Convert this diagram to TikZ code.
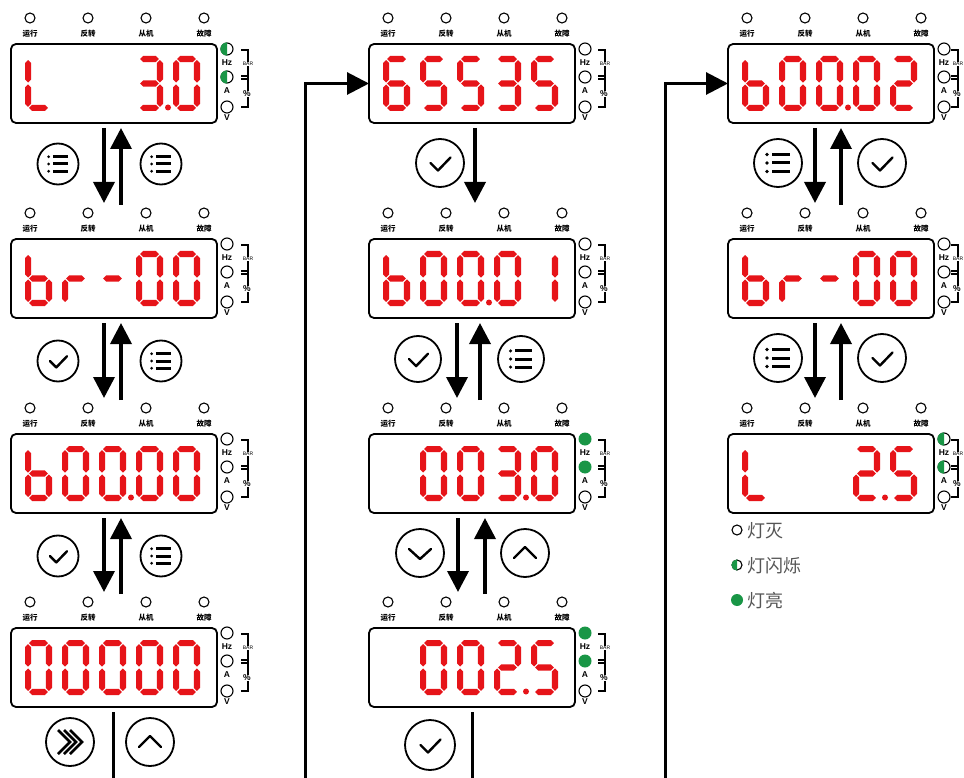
\documentclass[tikz,border=0pt]{standalone}
\usepackage{fontspec}
\newfontfamily\cjk{Noto Sans CJK SC}
\newfontfamily\lsans{Liberation Sans}
\usetikzlibrary{arrows.meta,calc}
\definecolor{segred}{RGB}{230,20,25}
\definecolor{ledg}{RGB}{25,150,70}
\definecolor{legcol}{RGB}{85,85,85}

\def\hh{3.1}
\newcommand\hseg[3]{\fill[segred] (#1,#3) -- (#1+\hh,#3-\hh) -- (#2-\hh,#3-\hh) -- (#2,#3) -- (#2-\hh,#3+\hh) -- (#1+\hh,#3+\hh) -- cycle;}
\newcommand\vseg[3]{\fill[segred] (#1,#2) -- (#1+\hh,#2+\hh) -- (#1+\hh,#3-\hh) -- (#1,#3) -- (#1-\hh,#3-\hh) -- (#1-\hh,#2+\hh) -- cycle;}
\def\zsga{\hseg{4.1}{22.9}{3.1}}
\def\zsgb{\vseg{23.9}{4.1}{26.6}}
\def\zsgc{\vseg{23.9}{28.4}{50.9}}
\def\zsgd{\hseg{4.1}{22.9}{51.9}}
\def\zsge{\vseg{3.1}{28.4}{50.9}}
\def\zsgf{\vseg{3.1}{4.1}{26.6}}
\def\zsgg{\hseg{4.1}{22.9}{27.5}}
\def\zsgp{\fill[segred] (32,51.5) circle (3);}
\def\zsgn{}
\newcommand\dg[3]{\begin{scope}[shift={(#1,#2)}]\foreach \s in {#3}{\csname zsg\s\endcsname}\end{scope}}
\newcommand\disp[7]{\dg{#1+14}{#2+12}{#3}\dg{#1+51}{#2+12}{#4}\dg{#1+88}{#2+12}{#5}\dg{#1+125}{#2+12}{#6}\dg{#1+162}{#2+12}{#7}}

\newcommand\ledoff[2]{\draw[ledline] (#1,#2) circle (6);}
\newcommand\ledon[2]{\fill[ledg] (#1,#2) circle (6.5);}
\newcommand\ledhalf[2]{\draw[ledline] (#1,#2) circle (6); \fill[ledg] (#1,#2+6.6) arc[start angle=90,end angle=270,radius=6.6] -- cycle;}

% #1 name, #2 X, #3 Y, #4 Hz led, #5 A led, #6 bracket x offset
\newcommand\panel[6]{%
 \node[pbox] (#1) at (#2+103,#3+39.5) {};
 \foreach \dx/\tx in {19/运行,77/反转,135/从机,193/故障}{%
   \draw[ledline] (#2+\dx,#3-26) circle (5);
   \node[toplab] at (#2+\dx,#3-10) {\tx};}
 #4{#2+216}{#3+5}
 #5{#2+216}{#3+33}
 \ledoff{#2+216}{#3+63}
 \node[sidelab] at (#2+216,#3+18.5) {Hz};
 \node[sidelab] at (#2+216,#3+46.5) {A};
 \node[sidelab] at (#2+216,#3+74) {V};
 \draw[brk] (#2+#6-7,#3+6) -- (#2+#6,#3+6) -- (#2+#6,#3+63) -- (#2+#6-7,#3+63);
 \draw[brk] (#2+#6-7,#3+32) -- (#2+#6,#3+32) (#2+#6-7,#3+35) -- (#2+#6,#3+35);
 \node[barlab] at (#2+#6,#3+20) {BAR};
 \node[pctlab] at (#2+#6-1,#3+50) {\%};
}

\newcommand\icomenu[2]{\begin{scope}[shift={(#1)},scale=#2]
 \foreach \yy in {-8.5,0,8.5}{\fill (-11,\yy) circle (1.8); \draw[line width=3pt] (-6,\yy) -- (12,\yy);}
 \end{scope}}
\newcommand\icocheck[2]{\begin{scope}[shift={(#1)},scale=#2]
 \draw[ico] (-9.5,0) -- (-2,7.5) -- (10.5,-5.5);\end{scope}}
\newcommand\icodown[2]{\begin{scope}[shift={(#1)},scale=#2]
 \draw[ico] (-11,-4) -- (0,6) -- (11,-4);\end{scope}}
\newcommand\icoup[2]{\begin{scope}[shift={(#1)},scale=#2]
 \draw[ico] (-11,5) -- (0,-6) -- (11,5);\end{scope}}
\newcommand\icotriple[2]{\begin{scope}[shift={(#1)},scale=#2]
 \foreach \xx in {-12,-6,0}{\draw[line width=2.6pt] (\xx,-12) -- (\xx+12,0) -- (\xx,12);}\end{scope}}

\tikzset{
 pbox/.style={draw, line width=1.8pt, rounded corners=5pt, minimum width=206pt, minimum height=79pt, inner sep=0pt, outer sep=0pt},
 ledline/.style={draw, line width=1.1pt, fill=white},
 toplab/.style={font=\cjk\bfseries\fontsize{7.5}{7.5}\selectfont, inner sep=0pt},
 sidelab/.style={font=\lsans\bfseries\fontsize{8.5}{8.5}\selectfont, inner sep=0pt},
 barlab/.style={font=\lsans\fontsize{5}{5}\selectfont, inner sep=0.5pt, fill=white},
 pctlab/.style={font=\lsans\bfseries\fontsize{8.5}{8.5}\selectfont, inner sep=0.5pt, fill=white},
 brk/.style={line width=1.1pt},
 btn/.style={draw, circle, line width=1.8pt, inner sep=0pt, minimum size=#1},
 btn/.default=48pt,
 arr/.style={line width=3.6pt, -{Triangle[length=21pt,width=21pt]}},
 conn/.style={line width=3pt},
 carr/.style={line width=3pt, -{Triangle[length=22pt,width=22pt]}},
 ico/.style={line width=2.4pt, line cap=round, line join=round},
 legtext/.style={font=\cjk\fontsize{18}{18}\selectfont, text=legcol, inner sep=0pt, anchor=west},
}

\begin{document}
\begin{tikzpicture}[x=1pt,y=-1pt]
\useasboundingbox (0,0) rectangle (964,778);
\fill[white] (0,0) rectangle (964,778);
\coordinate (bot) at (0,781);

% ---------- left column ----------
\panel{p1}{11}{44}{\ledhalf}{\ledhalf}{237}
\disp{11}{44}{f,e,d}{n}{n}{a,b,g,c,d,p}{a,b,c,d,e,f}
\panel{p2}{11}{239}{\ledoff}{\ledoff}{237}
\disp{11}{239}{f,g,e,d,c}{e,g}{g}{a,b,c,d,e,f}{a,b,c,d,e,f}
\panel{p3}{11}{434}{\ledoff}{\ledoff}{237}
\disp{11}{434}{f,g,e,d,c}{a,b,c,d,e,f}{a,b,c,d,e,f,p}{a,b,c,d,e,f}{a,b,c,d,e,f}
\panel{p4}{11}{628}{\ledoff}{\ledoff}{237}
\disp{11}{628}{a,b,c,d,e,f}{a,b,c,d,e,f}{a,b,c,d,e,f}{a,b,c,d,e,f}{a,b,c,d,e,f}

% ---------- middle column ----------
\panel{p5}{369}{44}{\ledoff}{\ledoff}{236}
\disp{369}{44}{a,f,g,e,d,c}{a,f,g,c,d}{a,f,g,c,d}{a,b,g,c,d}{a,f,g,c,d}
\panel{p6}{369}{239}{\ledoff}{\ledoff}{236}
\disp{369}{239}{f,g,e,d,c}{a,b,c,d,e,f}{a,b,c,d,e,f,p}{a,b,c,d,e,f}{b,c}
\panel{p7}{369}{434}{\ledon}{\ledon}{236}
\disp{369}{434}{n}{a,b,c,d,e,f}{a,b,c,d,e,f}{a,b,g,c,d,p}{a,b,c,d,e,f}
\panel{p8}{369}{628}{\ledon}{\ledon}{236}
\disp{369}{628}{n}{a,b,c,d,e,f}{a,b,c,d,e,f}{a,b,g,e,d,p}{a,f,g,c,d}

% ---------- right column ----------
\panel{p9}{728}{44}{\ledoff}{\ledoff}{230}
\disp{728}{44}{f,g,e,d,c}{a,b,c,d,e,f}{a,b,c,d,e,f,p}{a,b,c,d,e,f}{a,b,g,e,d}
\panel{p10}{728}{239}{\ledoff}{\ledoff}{230}
\disp{728}{239}{f,g,e,d,c}{e,g}{g}{a,b,c,d,e,f}{a,b,c,d,e,f}
\panel{p11}{728}{434}{\ledhalf}{\ledhalf}{230}
\disp{728}{434}{f,e,d}{n}{n}{a,b,g,e,d,p}{a,f,g,c,d}

% ---------- left buttons / arrows ----------
\node[btn=41pt] (k1) at (58,164) {}; \icomenu{k1}{0.85}
\node[btn=41pt] (k2) at (161,164) {}; \icomenu{k2}{0.85}
\draw[arr] ([xshift=-10pt,yshift=-5pt]p1.south) -- ([xshift=-10pt,yshift=36pt]p2.north);
\draw[arr] ([xshift=7pt,yshift=34pt]p2.north) -- ([xshift=7pt,yshift=-5pt]p1.south);

\node[btn=41pt] (k3) at (58,361) {}; \icocheck{k3}{0.85}
\node[btn=41pt] (k4) at (161,361) {}; \icomenu{k4}{0.85}
\draw[arr] ([xshift=-10pt,yshift=-5pt]p2.south) -- ([xshift=-10pt,yshift=36pt]p3.north);
\draw[arr] ([xshift=7pt,yshift=34pt]p3.north) -- ([xshift=7pt,yshift=-5pt]p2.south);

\node[btn=41pt] (k5) at (58,556) {}; \icocheck{k5}{0.85}
\node[btn=41pt] (k6) at (161,556) {}; \icomenu{k6}{0.85}
\draw[arr] ([xshift=-10pt,yshift=-5pt]p3.south) -- ([xshift=-10pt,yshift=36pt]p4.north);
\draw[arr] ([xshift=7pt,yshift=34pt]p4.north) -- ([xshift=7pt,yshift=-5pt]p3.south);

\node[btn] (k7) at (70,742) {}; \icotriple{k7}{1}
\node[btn] (k8) at (150,742) {}; \icoup{k8}{1}
\draw[conn] ([xshift=-1pt,yshift=-5pt]p4.south) -- ([xshift=-1pt]p4.south |- bot);
\coordinate (c1) at (305,781);
\draw[carr] (c1) |- (p5.west);

% ---------- middle buttons / arrows ----------
\node[btn] (m1) at (440,163) {}; \icocheck{m1}{1}
\draw[arr] ([xshift=3pt,yshift=-5pt]p5.south) -- ([xshift=3pt,yshift=36pt]p6.north);

\node[btn=46pt] (m2) at (418,359) {}; \icocheck{m2}{0.95}
\node[btn=46pt] (m3) at (521,359) {}; \icomenu{m3}{0.95}
\draw[arr] ([xshift=-15pt,yshift=-5pt]p6.south) -- ([xshift=-15pt,yshift=36pt]p7.north);
\draw[arr] ([xshift=8pt,yshift=34pt]p7.north) -- ([xshift=8pt,yshift=-5pt]p6.south);

\node[btn] (m4) at (420,553) {}; \icodown{m4}{1}
\node[btn] (m5) at (525,553) {}; \icoup{m5}{1}
\draw[arr] ([xshift=-14pt,yshift=-5pt]p7.south) -- ([xshift=-14pt,yshift=36pt]p8.north);
\draw[arr] ([xshift=13pt,yshift=34pt]p8.north) -- ([xshift=13pt,yshift=-5pt]p7.south);

\node[btn=50pt] (m6) at (430,745) {}; \icocheck{m6}{1}
\draw[conn] ([yshift=-5pt]p8.south) -- (p8.south |- bot);
\coordinate (c2) at (665,781);
\draw[carr] (c2) |- (p9.west);

% ---------- right buttons / arrows ----------
\node[btn] (r1) at (778,163) {}; \icomenu{r1}{1}
\node[btn] (r2) at (882,163) {}; \icocheck{r2}{1}
\draw[arr] ([xshift=-16pt,yshift=-5pt]p9.south) -- ([xshift=-16pt,yshift=36pt]p10.north);
\draw[arr] ([xshift=10pt,yshift=34pt]p10.north) -- ([xshift=10pt,yshift=-5pt]p9.south);

\node[btn] (r3) at (778,358) {}; \icomenu{r3}{1}
\node[btn] (r4) at (882,358) {}; \icocheck{r4}{1}
\draw[arr] ([xshift=-16pt,yshift=-5pt]p10.south) -- ([xshift=-16pt,yshift=36pt]p11.north);
\draw[arr] ([xshift=10pt,yshift=34pt]p11.north) -- ([xshift=10pt,yshift=-5pt]p10.south);

% ---------- legend ----------
\draw[ledline] (737,530) circle (5);
\node[legtext] (l1) at (747,531) {灯灭};
\draw[ledline] (737,565) circle (5);
\fill[ledg] (737,570.6) arc[start angle=90,end angle=270,radius=5.6] -- cycle;
\node[legtext] (l2) at (747,566) {灯闪烁};
\fill[ledg] (737,600) circle (6);
\node[legtext] (l3) at (747,601) {灯亮};
\end{tikzpicture}
\end{document}
